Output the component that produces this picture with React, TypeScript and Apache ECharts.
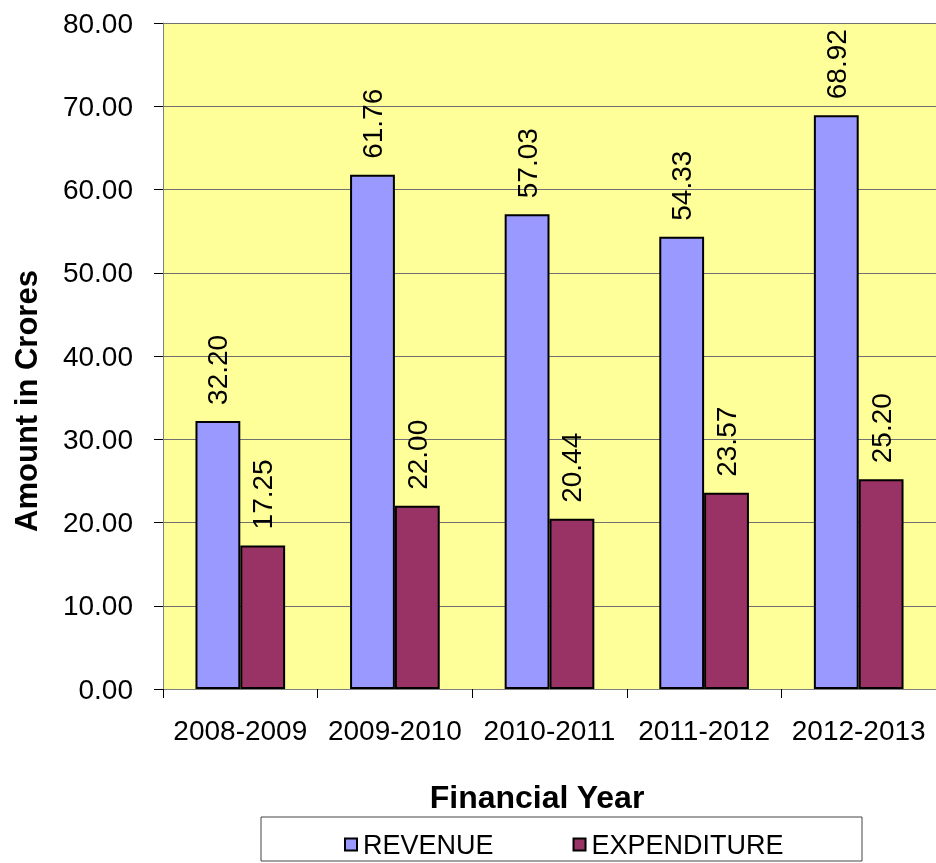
import React, { useEffect, useRef } from "react";
import * as echarts from "echarts";

const categories = ["2008-2009", "2009-2010", "2010-2011", "2011-2012", "2012-2013"];
const revenue = [32.2, 61.76, 57.03, 54.33, 68.92];
const expenditure = [17.25, 22.0, 20.44, 23.57, 25.2];
const seriesNames = ["REVENUE", "EXPENDITURE"];
const xTitle = "Financial Year";
const yTitle = "Amount in Crores";

const FONT = "'Liberation Sans', Arial, sans-serif";

export default function App() {
  const ref = useRef<HTMLDivElement>(null);
  useEffect(() => {
    const chart = echarts.init(ref.current!, null, { renderer: "svg" });
    const label = {
      show: true,
      position: "top" as const,
      rotate: 90,
      align: "left" as const,
      verticalAlign: "middle" as const,
      distance: 16,
      fontSize: 28,
      fontFamily: FONT,
      color: "#000",
      formatter: (p: any) => Number(p.value).toFixed(2),
    };
    chart.setOption({
      animation: false,
      grid: { left: 163, right: -5, top: 23, bottom: 174, backgroundColor: "#FFFF99", show: true, borderWidth: 0 },
      xAxis: {
        type: "category",
        data: categories,
        axisLine: { show: true, lineStyle: { color: "#808080", width: 1 } },
        axisTick: { show: true, length: 9, lineStyle: { color: "#000" } },
        axisLabel: { fontSize: 28, fontFamily: FONT, color: "#000", margin: 27, interval: 0, hideOverlap: false },
      },
      yAxis: {
        type: "value",
        min: 0,
        max: 80,
        interval: 10,
        axisLine: { show: true, lineStyle: { color: "#808080", width: 1 } },
        axisTick: { show: true, length: 9, lineStyle: { color: "#000" } },
        axisLabel: { fontSize: 28, fontFamily: FONT, color: "#000", margin: 30, formatter: (v: number) => v.toFixed(2) },
        splitLine: { show: true, lineStyle: { color: "#707070", width: 1 } },
      },
      legend: {
        data: seriesNames,
        left: 344,
        top: 831,
        padding: 0,
        itemWidth: 12,
        itemHeight: 12,
        itemGap: 79,
        icon: "rect",
        itemStyle: { borderColor: "#000", borderWidth: 2 },
        textStyle: { fontSize: 27, fontFamily: FONT, color: "#000", padding: [0, 0, 0, 1] },
      },
      graphic: [
        {
          type: "rect",
          shape: { x: 261, y: 817, width: 601, height: 44 },
          style: { fill: "#fff", stroke: "#444", lineWidth: 1 },
          z: -1,
        },
        {
          type: "text",
          x: 537,
          y: 797,
          style: {
            text: xTitle,
            fontSize: 32,
            fontWeight: "bold",
            fontFamily: FONT,
            fill: "#000",
            align: "center",
            verticalAlign: "middle",
          },
        },
        {
          type: "text",
          x: 26,
          y: 401,
          rotation: Math.PI / 2,
          style: {
            text: yTitle,
            fontSize: 31,
            fontWeight: "bold",
            fontFamily: FONT,
            fill: "#000",
            align: "center",
            verticalAlign: "middle",
          },
        },
      ],
      series: [
        {
          name: seriesNames[0],
          type: "bar",
          data: revenue,
          barGap: "0%",
          barCategoryGap: "42%",
          itemStyle: { color: "#9999FF", borderColor: "#000", borderWidth: 2 },
          label,
        },
        {
          name: seriesNames[1],
          type: "bar",
          data: expenditure,
          itemStyle: { color: "#993366", borderColor: "#000", borderWidth: 2 },
          label,
        },
      ],
    });
    return () => chart.dispose();
  }, []);
  return <div ref={ref} style={{ position: "fixed", left: 0, top: 0, width: 936, height: 863 }} />;
}
